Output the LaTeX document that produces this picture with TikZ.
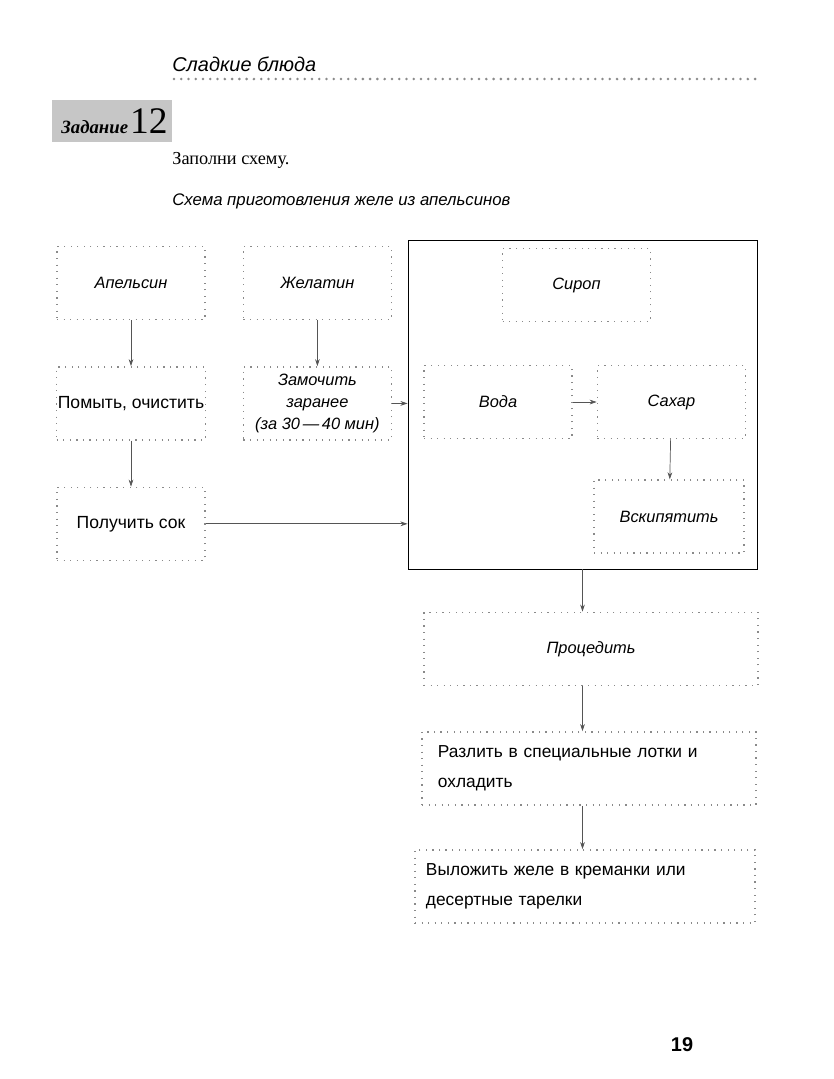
\documentclass[tikz,border=0pt]{standalone}
\usepackage{fontspec}
\setmainfont{Liberation Serif}
\setsansfont{Liberation Sans}
\usetikzlibrary{arrows.meta}
\usetikzlibrary{positioning, calc}
\definecolor{dotgray}{HTML}{8A8A8A}
\definecolor{arrgray}{HTML}{555555}

\begin{document}
\begin{tikzpicture}[
    x=0.03cm, y=-0.03cm,
    line width=0.6pt,
    node distance=1.38cm and 1.11cm,
    stage/.style={draw=dotgray, line width=1.2pt, dash pattern=on 1pt off 4.6pt,
                  minimum width=4.44cm, minimum height=2.19cm, align=center,
                  inner sep=1pt, font=\sffamily\itshape\fontsize{14}{19}\selectfont},
    upright/.style={font=\sffamily\fontsize{15}{19}\selectfont},
    wide/.style={stage, minimum width=10.02cm, minimum height=2.2cm},
    plain/.style={font=\sffamily\fontsize{14.8}{26}\selectfont, align=left},
    txt/.style={inner sep=0pt, anchor=base west},
    flow/.style={draw=arrgray, -{Stealth[length=6pt, width=4pt]}},
  ]
  \useasboundingbox (0,0) rectangle (834,1079);

  % ---- page head ----
  \node[txt, font=\sffamily\itshape\fontsize{17}{20}\selectfont] (chapter) at (172,71) {Сладкие блюда};
  \coordinate (rulestart) at (174,79);
  \coordinate (ruleend) at (757,79);
  \draw[dotgray, line width=2.4pt, line cap=round, dash pattern=on 0pt off 6.2pt]
    (rulestart) -- (ruleend);

  \node[fill=gray!45, minimum width=3.6cm, minimum height=1.26cm] (badge) at (112,121) {};
  \node[txt] (task) at (61,133)
    {{\fontsize{16}{16}\selectfont\bfseries\itshape Задание}\,{\fontsize{32}{32}\selectfont 12}};
  \node[txt, font=\fontsize{15.6}{18}\selectfont] (prompt) at (172,164) {Заполни схему.};
  \node[txt, font=\sffamily\itshape\fontsize{14.3}{16}\selectfont] (title) at (172,205)
    {Схема приготовления желе из апельсинов};

  % ---- left columns ----
  \node[stage] (apple) at (131,283) {Апельсин};
  \node[stage, right=of apple] (gelatin) {Желатин};
  \node[stage, upright, below=of apple] (wash) {Помыть, очистить};
  \node[stage, below=of gelatin] (soak) {Замочить\\заранее\\(за 30\,---\,40 мин)};
  \node[stage, upright, below=of wash] (juice) {Получить сок};

  % ---- syrup block ----
  \node[draw, line width=0.8pt, minimum width=10.47cm, minimum height=9.87cm] (syrupbox) at (582.5,404.5) {};
  \node[stage] (syrup) at (576.5,285) {Сироп};
  \node[stage] (water) at (498,402) {Вода};
  \node[stage, right=0.72cm of water] (sugar) {Сахар};
  \node[stage, minimum width=4.5cm] (boil) at (669,516.5) {Вскипятить};

  % ---- finishing steps ----
  \node[wide] (strain) at (591,649) {Процедить};
  \node[wide, plain, text width=9.06cm, inner xsep=0.48cm] (pour) at (589,768.5)
    {Разлить в специальные лотки и\\охладить};
  \node[wide, plain, text width=9.54cm, inner xsep=0.33cm] (serve) at (585,886.5)
    {Выложить желе в креманки или\\десертные тарелки};

  \node[inner sep=0pt, anchor=base, font=\sffamily\bfseries\fontsize{17}{17}\selectfont] (pagenum) at (682,1051) {19};

  % ---- arrows ----
  \draw[flow] (apple) -- (wash);
  \draw[flow] (wash) -- (juice);
  \draw[flow] (gelatin) -- (soak);
  \draw[flow] (soak) -- (soak -| syrupbox.west);
  \draw[flow] (juice) -- (juice -| syrupbox.west);
  \draw[flow] (water) -- (sugar);
  \draw[flow] (sugar) -- (boil);
  \draw[flow] (syrupbox.south) -- (syrupbox.south |- strain.north);
  \draw[flow] (strain.south -| syrupbox.south) -- (pour.north -| syrupbox.south);
  \draw[flow] (pour.south -| syrupbox.south) -- (serve.north -| syrupbox.south);
\end{tikzpicture}
\end{document}
